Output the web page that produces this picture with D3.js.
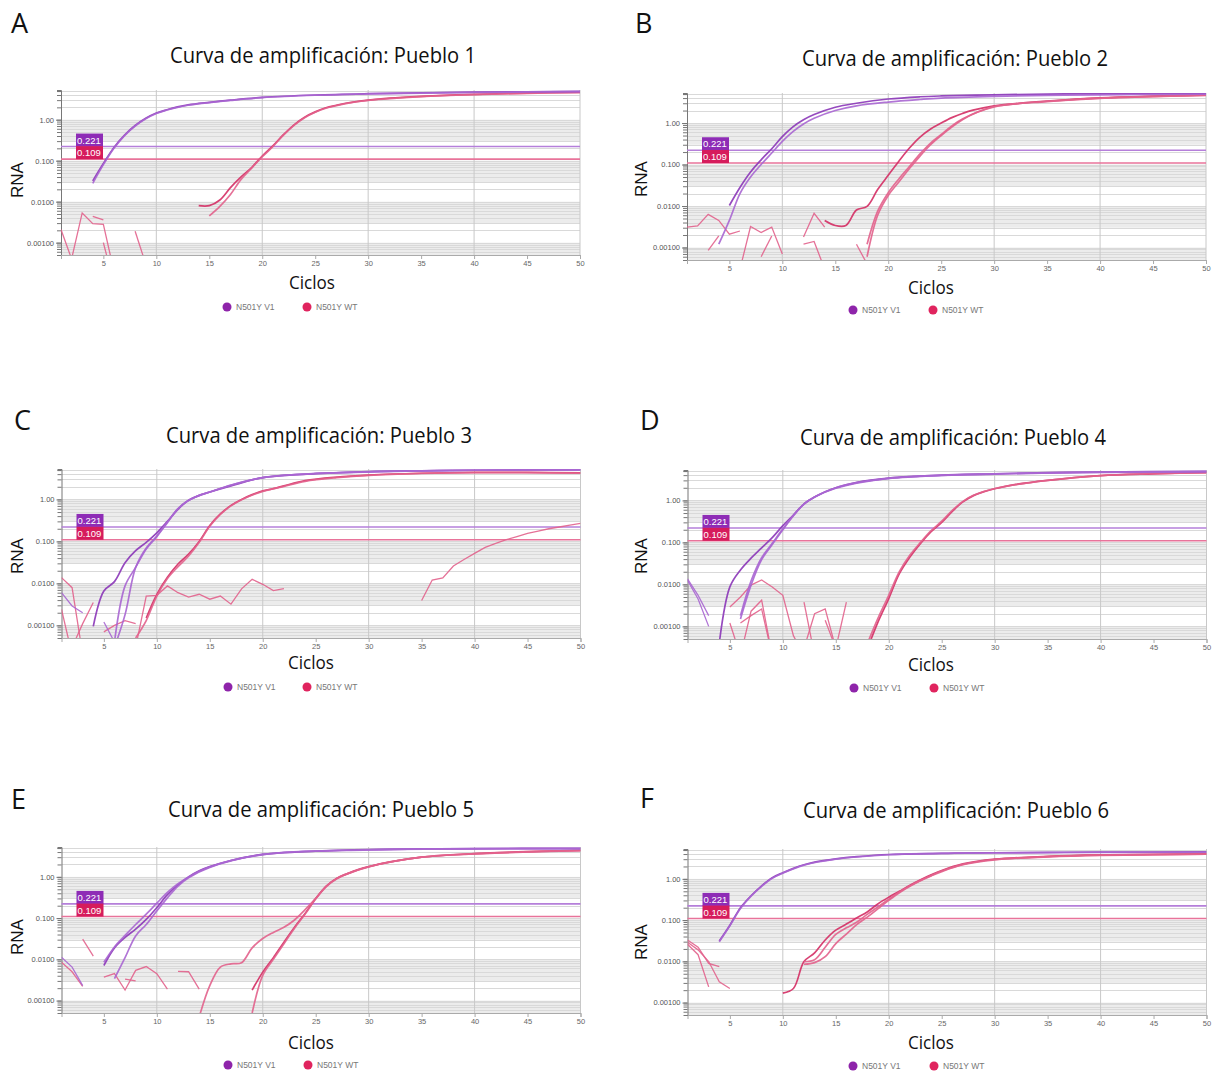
<!DOCTYPE html>
<html>
<head>
<meta charset="utf-8">
<script src="https://cdn.jsdelivr.net/npm/d3@7"></script>
<style>
  body { margin: 0; background: #fff; }
  svg { display: block; }
</style>
</head>
<body>
<div id="chart"></div>
<script>
// ---- data ----
const panelLetters = ["A", "B", "C", "D", "E", "F"];
const panelTitles = [
  "Curva de amplificación: Pueblo 1",
  "Curva de amplificación: Pueblo 2",
  "Curva de amplificación: Pueblo 3",
  "Curva de amplificación: Pueblo 4",
  "Curva de amplificación: Pueblo 5",
  "Curva de amplificación: Pueblo 6"
];
const xLabel = "Ciclos";
const yLabel = "RNA";
const legendLabels = ["N501Y V1", "N501Y WT"];
const xTickValues = [5, 10, 15, 20, 25, 30, 35, 40, 45, 50];
const xGridValues = [10, 20, 30, 40, 50];
const yTickValues = [0.001, 0.01, 0.1, 1];
const yTickLabels = ["0.00100", "0.0100", "0.100", "1.00"];
const thresholdValues = [0.221, 0.109];
const thresholdLabels = ["0.221", "0.109"];

// each curve = [cycle, RNA] pairs
const pueblo1V1 = [
  [[4,0.032],[5,0.085],[6,0.21],[7,0.42],[8,0.72],[9,1.08],[10,1.45],[11,1.75],[12,2.05],[13,2.3],[15,2.65],[17,3.0],[20,3.5],[25,4.0],[30,4.3],[35,4.5],[40,4.7],[45,4.8],[50,4.9]],
  [[4,0.028],[5,0.08],[6,0.2],[7,0.41],[8,0.7],[9,1.05],[10,1.42],[11,1.72],[12,2.0],[13,2.25],[15,2.6],[17,2.95],[20,3.45],[25,3.95],[30,4.25],[35,4.45],[40,4.65],[45,4.75],[50,4.85]]
];
const pueblo1WT = [
  [[14,0.008],[15,0.008],[16,0.011],[17,0.022],[18,0.04],[19,0.068],[20,0.13],[21,0.23],[22,0.43],[23,0.75],[24,1.15],[25,1.55],[26,1.95],[27,2.25],[28,2.55],[30,3.0],[32,3.35],[35,3.7],[40,4.15],[45,4.45],[50,4.65]],
  [[15,0.0045],[16,0.0077],[17,0.015],[18,0.035],[19,0.066],[20,0.125],[21,0.22],[22,0.42],[23,0.73],[24,1.12],[25,1.52],[26,1.9],[28,2.5],[30,2.95],[35,3.65],[40,4.1],[45,4.4],[50,4.6]],
  [[1,0.0021],[2,0.0004],[3,0.0053],[4,0.0029],[5,0.0028],[6,0.0002]],
  [[4,0.0044],[5,0.0036]],
  [[5,0.001],[6,0.0001]],
  [[8,0.0019],[9,0.0003]]
];

const pueblo2V1 = [
  [[5,0.0103],[6,0.028],[7,0.066],[8,0.13],[9,0.24],[10,0.47],[11,0.81],[12,1.2],[13,1.6],[15,2.4],[17,3.0],[20,3.8],[23,4.3],[25,4.5],[30,4.8],[35,5.0],[40,5.1],[50,5.2]],
  [[4,0.0012],[5,0.0045],[6,0.02],[7,0.05],[8,0.1],[9,0.19],[10,0.36],[11,0.62],[12,0.95],[13,1.3],[15,2.0],[17,2.6],[20,3.2],[23,3.7],[25,4.0],[30,4.4],[35,4.65],[40,4.8],[50,4.95]]
];
const pueblo2WT = [
  [[14,0.0045],[15,0.0034],[16,0.0034],[17,0.008],[18,0.0098],[19,0.025],[20,0.055],[21,0.12],[22,0.25],[23,0.46],[24,0.72],[25,1.0],[26,1.35],[27,1.7],[28,2.05],[30,2.6],[33,3.1],[35,3.4],[40,4.05],[45,4.45],[50,4.75]],
  [[18,0.0006],[19,0.006],[20,0.018],[21,0.038],[22,0.08],[23,0.16],[24,0.3],[25,0.5],[26,0.8],[27,1.2],[28,1.65],[30,2.5],[33,3.05],[35,3.35],[40,4.0],[45,4.4],[50,4.7]],
  [[18,0.0012],[19,0.0075],[20,0.021],[21,0.045],[22,0.09],[23,0.18],[24,0.33],[25,0.53],[26,0.85],[27,1.25],[30,2.45],[35,3.3],[40,3.95],[50,4.65]],
  [[1,0.0031],[2,0.0033],[3,0.0063],[4,0.0045],[5,0.0021],[6,0.0025]],
  [[3,0.00085],[4,0.0019]],
  [[6,0.0003],[7,0.0032],[8,0.0023],[9,0.0031],[10,0.0007]],
  [[8,0.0006],[9,0.0019]],
  [[12,0.0018],[13,0.0067],[14,0.0031]],
  [[12,0.0012],[13,0.0014],[14,0.0003]],
  [[17,0.0012],[18,0.0004]]
];

const pueblo3V1 = [
  [[4,0.00095],[5,0.0066],[6,0.011],[7,0.031],[8,0.06],[9,0.095],[10,0.16],[11,0.3],[12,0.58],[13,0.95],[14,1.25],[15,1.5],[17,2.1],[20,3.3],[25,4.1],[30,4.6],[35,4.8],[40,4.95],[50,5.1]],
  [[6,0.0004],[7,0.0087],[8,0.024],[9,0.066],[10,0.13],[11,0.28],[12,0.6],[13,0.95],[14,1.25],[15,1.5],[17,2.2],[20,3.3],[25,4.1],[30,4.55],[35,4.8],[40,4.95],[50,5.1]],
  [[6,0.0003],[7,0.0018],[8,0.024],[9,0.07],[10,0.135],[11,0.29],[12,0.6],[13,0.95],[15,1.5],[20,3.3],[30,4.55],[50,5.05]],
  [[1,0.006],[2,0.0029],[3,0.002]],
  [[5,0.0012],[6,0.0004]]
];
const pueblo3WT = [
  [[9,0.0015],[10,0.0055],[11,0.014],[12,0.029],[13,0.05],[14,0.1],[15,0.24],[16,0.45],[17,0.72],[18,1.0],[19,1.3],[20,1.6],[21,1.8],[22,2.1],[24,2.8],[27,3.4],[30,3.8],[35,4.2],[40,4.4],[45,4.4],[50,4.3]],
  [[8,0.0005],[9,0.0013],[10,0.005],[11,0.013],[12,0.025],[13,0.045],[14,0.095],[15,0.23],[16,0.44],[17,0.7],[18,0.98],[20,1.55],[22,2.05],[24,2.7],[27,3.3],[30,3.75],[35,4.15],[40,4.35],[50,4.25]],
  [[8,0.0003],[9,0.005],[10,0.0052],[11,0.0087],[12,0.006],[13,0.0047],[14,0.0055],[15,0.0042],[16,0.005],[17,0.0032],[18,0.0074],[19,0.0125],[20,0.0095],[21,0.0067],[22,0.0075]],
  [[1,0.0137],[2,0.0079],[3,0.0002]],
  [[1,0.0024],[2,0.0002]],
  [[2,0.0003],[3,0.0011],[4,0.0035]],
  [[5,0.0007],[6,0.001],[7,0.0013],[8,0.0011]],
  [[35,0.0039],[36,0.012],[37,0.0135],[38,0.026],[39,0.037],[40,0.052],[41,0.072],[42,0.09],[43,0.11],[44,0.13],[45,0.155],[46,0.175],[47,0.2],[48,0.22],[49,0.245],[50,0.27]]
];

const pueblo4V1 = [
  [[4,0.0004],[5,0.0087],[6,0.022],[7,0.042],[8,0.074],[9,0.13],[10,0.25],[11,0.45],[12,0.83],[13,1.2],[14,1.6],[15,2.0],[17,2.7],[20,3.4],[25,4.0],[30,4.3],[35,4.6],[40,4.75],[50,4.9]],
  [[6,0.0015],[7,0.0096],[8,0.039],[9,0.089],[10,0.2],[11,0.43],[12,0.82],[13,1.2],[15,2.0],[17,2.65],[20,3.35],[25,3.95],[30,4.3],[40,4.7],[50,4.85]],
  [[6,0.0018],[7,0.012],[8,0.043],[9,0.095],[10,0.21],[11,0.44],[12,0.82],[13,1.2],[15,1.95],[20,3.35],[30,4.25],[50,4.85]],
  [[1,0.0135],[2,0.0055],[3,0.0018]],
  [[1,0.0125],[2,0.0045],[3,0.001]]
];
const pueblo4WT = [
  [[18,0.0003],[19,0.0013],[20,0.0046],[21,0.018],[22,0.045],[23,0.095],[24,0.18],[25,0.3],[26,0.55],[27,0.92],[28,1.3],[29,1.62],[30,1.9],[32,2.4],[35,3.0],[40,3.9],[45,4.3],[50,4.6]],
  [[18,0.0004],[19,0.0016],[20,0.0055],[21,0.02],[22,0.05],[23,0.1],[24,0.19],[25,0.32],[26,0.58],[27,0.95],[28,1.32],[30,1.92],[35,3.0],[40,3.9],[50,4.6]],
  [[5,0.0029],[6,0.005],[7,0.0096],[8,0.0127],[9,0.0087],[10,0.0055],[11,0.0006],[12,0.0002]],
  [[5,0.0012],[6,0.0002]],
  [[6,0.0012],[7,0.0018],[8,0.0026],[9,0.0002]],
  [[6,0.0002],[7,0.0023],[8,0.0042],[9,0.0002]],
  [[12,0.0038],[13,0.0002]],
  [[12,0.0003],[13,0.002],[14,0.0026],[15,0.0003]],
  [[14,0.0014],[15,0.0003]],
  [[15,0.0003],[16,0.0038]]
];

const pueblo5V1 = [
  [[5,0.0071],[6,0.019],[7,0.034],[8,0.054],[9,0.093],[10,0.18],[11,0.37],[12,0.64],[13,1.0],[14,1.4],[15,1.77],[17,2.5],[20,3.5],[25,4.2],[30,4.6],[35,4.75],[40,4.85],[50,4.9]],
  [[5,0.0085],[6,0.02],[7,0.038],[8,0.07],[9,0.125],[10,0.23],[11,0.42],[12,0.68],[13,1.0],[15,1.75],[20,3.5],[30,4.55],[50,4.85]],
  [[6,0.0034],[7,0.011],[8,0.037],[9,0.07],[10,0.15],[11,0.31],[12,0.6],[13,0.95],[15,1.7],[20,3.45],[30,4.5],[50,4.85]],
  [[1,0.0112],[2,0.0065],[3,0.0023]]
];
const pueblo5WT = [
  [[19,0.0018],[20,0.0049],[21,0.011],[22,0.026],[23,0.06],[24,0.13],[25,0.3],[26,0.6],[27,0.93],[28,1.2],[29,1.5],[30,1.77],[32,2.3],[35,3.0],[40,3.65],[45,4.1],[50,4.4]],
  [[19,0.0005],[20,0.0041],[21,0.01],[22,0.024],[23,0.057],[24,0.125],[25,0.29],[26,0.58],[27,0.9],[28,1.18],[30,1.75],[35,3.0],[40,3.6],[50,4.35]],
  [[14,0.0004],[15,0.0023],[16,0.0065],[17,0.0078],[18,0.0083],[19,0.019],[20,0.032],[21,0.045],[22,0.06],[23,0.09],[24,0.16],[25,0.3],[26,0.6],[27,0.92],[28,1.2],[30,1.76],[35,3.0],[40,3.65],[50,4.4]],
  [[3,0.031],[4,0.012]],
  [[5,0.0037],[6,0.0045],[7,0.0018],[8,0.0054],[9,0.0067],[10,0.0045],[11,0.0019]],
  [[7,0.0033],[8,0.003]],
  [[12,0.0051],[13,0.005],[14,0.0019]],
  [[1,0.0085],[2,0.005],[3,0.0022]]
];

const pueblo6V1 = [
  [[4,0.031],[5,0.075],[6,0.2],[7,0.39],[8,0.68],[9,1.07],[10,1.41],[11,1.8],[12,2.2],[13,2.55],[15,3.05],[17,3.45],[20,3.9],[25,4.15],[30,4.3],[35,4.4],[40,4.45],[50,4.5]],
  [[4,0.03],[5,0.073],[6,0.19],[7,0.38],[8,0.66],[9,1.04],[10,1.38],[12,2.15],[15,3.0],[20,3.85],[30,4.25],[50,4.45]]
];
const pueblo6WT = [
  [[10,0.0017],[11,0.0022],[12,0.0099],[13,0.016],[14,0.033],[15,0.057],[16,0.08],[17,0.114],[18,0.16],[19,0.25],[20,0.36],[21,0.5],[22,0.7],[23,0.95],[24,1.25],[25,1.6],[27,2.3],[30,3.0],[35,3.5],[40,3.8],[45,3.95],[50,4.05]],
  [[12,0.0099],[13,0.011],[14,0.022],[15,0.045],[16,0.065],[17,0.09],[18,0.14],[19,0.21],[20,0.32],[21,0.48],[22,0.68],[23,0.92],[24,1.2],[25,1.55],[27,2.25],[30,2.95],[35,3.45],[40,3.75],[50,4.0]],
  [[12,0.0085],[13,0.0093],[14,0.013],[15,0.027],[16,0.046],[17,0.079],[18,0.12],[19,0.19],[20,0.3],[21,0.46],[22,0.66],[23,0.9],[24,1.18],[25,1.5],[27,2.2],[30,2.9],[35,3.4],[40,3.7],[50,3.95]],
  [[1,0.033],[2,0.022],[3,0.0089],[4,0.0074]],
  [[1,0.029],[2,0.019],[3,0.0099],[4,0.0032],[5,0.0022]],
  [[1,0.026],[2,0.0145],[3,0.0024]]
];

const v1Curves = [pueblo1V1, pueblo2V1, pueblo3V1, pueblo4V1, pueblo5V1, pueblo6V1];
const wtCurves = [pueblo1WT, pueblo2WT, pueblo3WT, pueblo4WT, pueblo5WT, pueblo6WT];

// ---- layout (pixels) ----
const W = 1216, H = 1077;
const plotWidth = 519;
const panels = [
  {left: 61,    top: 90,  bottom: 255,  letter: [11, 33],   title: [323, 63],  ciclos: [312, 289],  rna: [17, 180],  legY: 307,  legX: [227, 307]},
  {left: 687,   top: 93,  bottom: 260,  letter: [635, 33],  title: [955, 66],  ciclos: [931, 294],  rna: [641, 179], legY: 310,  legX: [853, 933]},
  {left: 61.5,  top: 469, bottom: 638,  letter: [14, 430],  title: [319, 443], ciclos: [311, 669],  rna: [17, 556],  legY: 687,  legX: [228, 307]},
  {left: 687.5, top: 470, bottom: 639,  letter: [640, 430], title: [953, 445], ciclos: [931, 671],  rna: [641, 556], legY: 688,  legX: [854, 934]},
  {left: 61.5,  top: 847, bottom: 1013, letter: [11, 809],  title: [321, 817], ciclos: [311, 1049], rna: [17, 937],  legY: 1065, legX: [228, 308]},
  {left: 687.5, top: 849, bottom: 1015, letter: [640, 808], title: [956, 818], ciclos: [931, 1049], rna: [641, 942], legY: 1066, legX: [853, 934]}
];

const v1Color = "#8b36b8", v1Light = "#a866d2";
const wtColor = "#d42e64", wtLight = "#e2628c";
const thrColors = ["#b57fda", "#e8739a"];
const badgeColors = ["#8e2cb6", "#d61c5c"];
const legendColors = ["#8e24aa", "#e0245e"];
const uiFont = "'Liberation Sans', Arial, sans-serif";
const titleFont = "'Open Sans', 'Noto Sans', sans-serif";

const svg = d3.select("#chart").append("svg")
  .attr("width", W).attr("height", H)
  .style("background", "#fff");

panels.forEach((p, i) => {
  const x = d3.scaleLinear().domain([1, 50]).range([p.left, p.left + plotWidth]);
  const y = d3.scaleLog().domain([5e-4, 5.3]).range([p.bottom, p.top]);
  const g = svg.append("g");

  const clipId = "clip" + i;
  svg.append("clipPath").attr("id", clipId)
    .append("rect")
    .attr("x", p.left).attr("y", p.top)
    .attr("width", plotWidth).attr("height", p.bottom - p.top);

  const grid = g.append("g").attr("clip-path", `url(#${clipId})`);

  // gray bands under each decade
  const decades = [-4, -3, -2, -1, 0];
  grid.selectAll(".band").data(decades).join("rect")
    .attr("x", p.left).attr("width", plotWidth)
    .attr("y", k => y(Math.pow(10, k)))
    .attr("height", k => y(0.3 * Math.pow(10, k)) - y(Math.pow(10, k)))
    .attr("fill", "#ececec");

  const minor = [];
  decades.forEach(k => {
    for (let m = 1; m <= 9; m++) {
      const v = m * Math.pow(10, k);
      if (v > 5e-4 && v < 5.3) minor.push(v);
    }
  });
  grid.selectAll(".hline").data(minor).join("line")
    .attr("x1", p.left).attr("x2", p.left + plotWidth)
    .attr("y1", d => Math.round(y(d)) + 0.5).attr("y2", d => Math.round(y(d)) + 0.5)
    .attr("stroke", "#d9d9d9").attr("stroke-width", 1);

  g.selectAll(".vline").data(xGridValues).join("line")
    .attr("x1", d => x(d)).attr("x2", d => x(d))
    .attr("y1", p.top).attr("y2", p.bottom)
    .attr("stroke", "#c8c8c8").attr("stroke-width", 1);

  // axes
  const yMinor = g.append("g").attr("transform", `translate(${p.left},0)`)
    .call(d3.axisLeft(y).tickValues(minor.concat([5])).tickSize(4).tickFormat(""));
  yMinor.select(".domain").attr("stroke", "#777");
  yMinor.selectAll(".tick line").attr("stroke", "#777");

  const yMajor = g.append("g").attr("transform", `translate(${p.left},0)`)
    .call(d3.axisLeft(y).tickValues(yTickValues).tickSize(5).tickPadding(2)
      .tickFormat((d, j) => yTickLabels[j]));
  yMajor.select(".domain").remove();
  yMajor.selectAll(".tick line").attr("stroke", "#777");
  yMajor.selectAll("text").attr("font-family", uiFont).attr("font-size", 7.5).attr("fill", "#555");

  const xAxis = g.append("g").attr("transform", `translate(0,${p.bottom})`)
    .call(d3.axisBottom(x).tickValues(xTickValues).tickSize(4).tickPadding(2));
  xAxis.select(".domain").attr("stroke", "#aaa");
  xAxis.selectAll(".tick line").attr("stroke", "#aaa");
  xAxis.selectAll("text").attr("font-family", uiFont).attr("font-size", 7.5).attr("fill", "#666");

  // thresholds
  g.selectAll(".thr").data(thresholdValues).join("line")
    .attr("x1", p.left).attr("x2", p.left + plotWidth)
    .attr("y1", d => y(d)).attr("y2", d => y(d))
    .attr("stroke", (d, j) => thrColors[j]).attr("stroke-width", 1.6);

  // curves: smooth for amplification runs, straight segments for noise
  const curves = g.append("g").attr("clip-path", `url(#${clipId})`);
  const isAmp = pts => d3.max(pts, d => d[1]) > 0.5;
  const makeLine = pts => d3.line()
    .x(d => x(d[0])).y(d => y(d[1]))
    .curve(isAmp(pts) ? d3.curveCatmullRom.alpha(0.5) : d3.curveLinear)(pts);

  curves.selectAll(".wt").data(wtCurves[i]).join("path")
    .attr("d", makeLine)
    .attr("fill", "none")
    .attr("stroke", (pts, j) => isAmp(pts) && j === 0 ? wtColor : wtLight)
    .attr("stroke-width", pts => isAmp(pts) ? 1.7 : 1.3)
    .attr("stroke-opacity", 0.9);

  curves.selectAll(".v1").data(v1Curves[i]).join("path")
    .attr("d", makeLine)
    .attr("fill", "none")
    .attr("stroke", (pts, j) => j === 0 ? v1Color : v1Light)
    .attr("stroke-width", pts => isAmp(pts) ? 1.7 : 1.3)
    .attr("stroke-opacity", 0.9);

  // threshold badges
  const badges = g.selectAll(".badge").data(thresholdValues).join("g")
    .attr("transform", d => `translate(${p.left + 15},${y(d) - 13})`);
  badges.append("rect")
    .attr("width", 27).attr("height", 13)
    .attr("fill", (d, j) => badgeColors[j]);
  badges.append("text")
    .attr("x", 1).attr("y", 10)
    .attr("font-family", uiFont).attr("font-size", 9.5)
    .attr("fill", "#fff")
    .text((d, j) => thresholdLabels[j]);

  // texts
  svg.append("text")
    .attr("x", p.letter[0]).attr("y", p.letter[1])
    .attr("font-family", titleFont).attr("font-size", 27)
    .attr("fill", "#111")
    .text(panelLetters[i]);

  svg.append("text")
    .attr("x", p.title[0] - 153).attr("y", p.title[1])
    .attr("font-family", titleFont).attr("font-size", 21)
    .attr("textLength", 306).attr("lengthAdjust", "spacingAndGlyphs")
    .attr("fill", "#111")
    .text(panelTitles[i]);

  svg.append("text")
    .attr("x", p.ciclos[0] - 23).attr("y", p.ciclos[1])
    .attr("font-family", titleFont).attr("font-size", 18)
    .attr("textLength", 46).attr("lengthAdjust", "spacingAndGlyphs")
    .attr("fill", "#111")
    .text(xLabel);

  svg.append("text")
    .attr("transform", `translate(${p.rna[0]},${p.rna[1]}) rotate(-90)`)
    .attr("text-anchor", "middle").attr("dy", "0.35em")
    .attr("font-family", uiFont).attr("font-size", 17)
    .attr("fill", "#111")
    .text(yLabel);

  const leg = svg.append("g").selectAll("g").data(legendLabels).join("g")
    .attr("transform", (d, j) => `translate(${p.legX[j]},${p.legY})`);
  leg.append("circle").attr("r", 4.5).attr("fill", (d, j) => legendColors[j]);
  leg.append("text")
    .attr("x", 9).attr("y", 3.2)
    .attr("font-family", uiFont).attr("font-size", 8.5)
    .attr("fill", "#777")
    .text(d => d);
});
</script>
</body>
</html>
